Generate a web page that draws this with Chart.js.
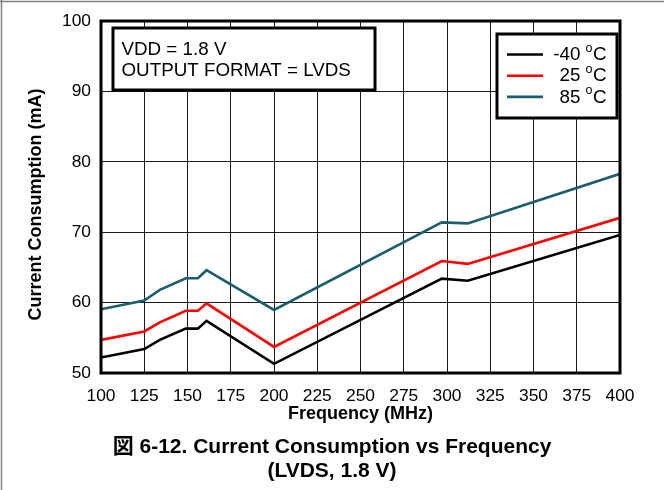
<!DOCTYPE html>
<html>
<head>
<meta charset="utf-8">
<script src="https://cdn.jsdelivr.net/npm/chart.js@4/dist/chart.umd.min.js"></script>
<style>
  html, body { margin: 0; padding: 0; background: #fff; }
  #wrap { width: 664px; height: 490px; }
</style>
</head>
<body>
<div id="wrap"><canvas id="c" width="664" height="490"></canvas></div>
<script>
// Supply current (mA) versus output frequency (MHz), three temperatures
const frequencies = [100, 125, 134, 149, 156, 161, 200, 297, 312, 400];
const currentM40 = [52.2, 53.4, 54.7, 56.3, 56.3, 57.4, 51.3, 63.4, 63.1, 69.6];
const current25  = [54.7, 55.9, 57.2, 58.85, 58.85, 59.9, 53.7, 65.9, 65.5, 72.05];
const current85  = [59.05, 60.3, 61.8, 63.45, 63.45, 64.6, 58.95, 71.4, 71.25, 78.3];

const seriesTemps = ['-40', '25', '85'];
const seriesColors = ['#000000', '#ff0000', '#1c5d6e'];

const xTicks = [100, 125, 150, 175, 200, 225, 250, 275, 300, 325, 350, 375, 400];
const yTicks = [50, 60, 70, 80, 90, 100];

const noteLines = ['VDD = 1.8 V', 'OUTPUT FORMAT = LVDS'];
const captionLines = ['図 6-12. Current Consumption vs Frequency', '(LVDS, 1.8 V)'];
const xTitle = 'Frequency (MHz)';
const yTitle = 'Current Consumption (mA)';

const FONT = "'Liberation Sans', Arial, 'Noto Sans CJK JP', sans-serif";

const seriesValues = [currentM40, current25, current85];
const datasets = seriesValues.map((vals, i) => ({
  label: seriesTemps[i] + ' °C',
  data: frequencies.map((f, k) => ({ x: f, y: vals[k] })),
  borderColor: seriesColors[i],
  backgroundColor: seriesColors[i],
  borderWidth: 2.6,
  pointRadius: 0,
  tension: 0,
  fill: false
}));

// Page edge, plot frame, condition note and temperature key
const decorations = {
  id: 'decorations',
  beforeDraw(chart) {
    const ctx = chart.ctx;
    ctx.save();
    ctx.fillStyle = '#fff';
    ctx.fillRect(0, 0, chart.width, chart.height);
    ctx.strokeStyle = '#808080';
    ctx.lineWidth = 1.5;
    ctx.beginPath();
    ctx.moveTo(0, 1.5); ctx.lineTo(chart.width, 1.5);
    ctx.moveTo(1.5, 0); ctx.lineTo(1.5, chart.height);
    ctx.stroke();
    ctx.restore();
  },
  afterDatasetsDraw(chart) {
    const ctx = chart.ctx;
    const a = chart.chartArea;
    ctx.save();
    // plot frame
    ctx.strokeStyle = '#000';
    ctx.lineWidth = 3;
    ctx.strokeRect(a.left, a.top, a.right - a.left, a.bottom - a.top);

    // condition note
    ctx.fillStyle = '#fff';
    ctx.fillRect(113, 28, 262, 62);
    ctx.strokeRect(113, 28, 262, 62);
    ctx.fillStyle = '#000';
    ctx.font = '18.8px ' + FONT;
    ctx.textAlign = 'left';
    ctx.textBaseline = 'middle';
    noteLines.forEach((t, i) => ctx.fillText(t, 121.5, 50 + i * 20.5));

    // temperature key
    ctx.fillStyle = '#fff';
    ctx.fillRect(497, 34, 120, 84);
    ctx.strokeRect(497, 34, 120, 84);
    chart.data.datasets.forEach((ds, i) => {
      const y = 54.5 + i * 21.2;
      ctx.strokeStyle = ds.borderColor;
      ctx.lineWidth = 2.6;
      ctx.beginPath();
      ctx.moveTo(507, y); ctx.lineTo(543, y);
      ctx.stroke();
      ctx.fillStyle = '#000';
      ctx.textBaseline = 'middle';
      ctx.font = '18.8px ' + FONT;
      ctx.textAlign = 'right';
      ctx.fillText(seriesTemps[i], 580.5, y + 0.5);
      ctx.textAlign = 'left';
      ctx.fillText('C', 593, y + 0.5);
      ctx.font = '12.5px ' + FONT;
      ctx.fillText('o', 585.5, y - 6);
    });
    ctx.restore();
  }
};

new Chart(document.getElementById('c'), {
  type: 'line',
  data: { datasets },
  options: {
    responsive: false,
    animation: false,
    devicePixelRatio: 1,
    layout: { padding: { top: 21, left: 0, right: 0, bottom: 0 } },
    plugins: {
      legend: { display: false },
      tooltip: { enabled: false },
      title: {
        display: true,
        position: 'bottom',
        text: captionLines,
        color: '#000',
        font: { family: FONT, size: 21, weight: 'bold', lineHeight: 24 / 21 },
        padding: { top: 9, bottom: 7 }
      }
    },
    scales: {
      x: {
        type: 'linear',
        min: 100,
        max: 400,
        afterBuildTicks: s => { s.ticks = xTicks.map(v => ({ value: v })); },
        afterFit: s => { s.height = 53; },
        grid: { color: '#1a1a1a', lineWidth: 1, drawTicks: false },
        border: { display: false },
        ticks: {
          color: '#000',
          padding: 13,
          maxRotation: 0,
          autoSkip: false,
          font: { family: FONT, size: 17.4 }
        },
        title: {
          display: true,
          text: xTitle,
          color: '#000',
          font: { family: FONT, size: 18, weight: 'bold', lineHeight: 1.2 },
          padding: { top: 0, bottom: 1.5 }
        }
      },
      y: {
        type: 'linear',
        position: 'left',
        min: 50,
        max: 100,
        afterBuildTicks: s => { s.ticks = yTicks.map(v => ({ value: v })); },
        afterFit: s => {
          s.width = 101;
          // the rotated axis title sits a little below the plot's midline
          if (!s._titleShifted) {
            const drawTitle = s.drawTitle;
            s.drawTitle = function () {
              this.ctx.save();
              this.ctx.translate(0, 7.5);
              drawTitle.call(this);
              this.ctx.restore();
            };
            s._titleShifted = true;
          }
        },
        grid: { color: '#1a1a1a', lineWidth: 1, drawTicks: false },
        border: { display: false },
        ticks: {
          color: '#000',
          padding: 10,
          font: { family: FONT, size: 17.4 }
        },
        title: {
          display: true,
          text: yTitle,
          color: '#000',
          font: { family: FONT, size: 18, weight: 'bold', lineHeight: 1.2 },
          padding: { top: 25.2, bottom: 0 }
        }
      },
      gutter: {
        type: 'linear',
        position: 'right',
        display: true,
        grid: { display: false },
        border: { display: false },
        ticks: { display: false },
        afterFit: s => { s.width = 44; }
      }
    }
  },
  plugins: [decorations]
});
</script>
</body>
</html>
